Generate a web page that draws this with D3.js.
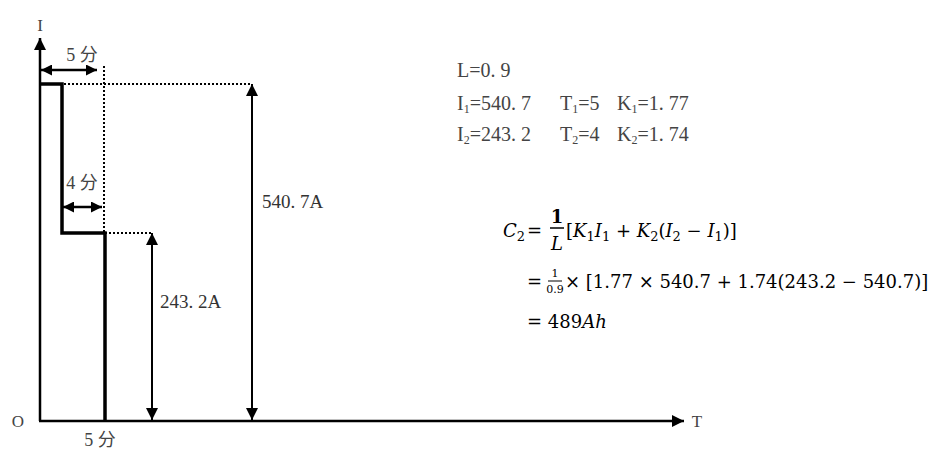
<!DOCTYPE html>
<html>
<head>
<meta charset="utf-8">
<script src="https://cdn.jsdelivr.net/npm/d3@7"></script>
<style>
  body { margin: 0; background: #fff; }
  text { font-family: "Liberation Serif", "Noto Sans CJK SC", serif; }
  .math text { font-family: "DejaVu Serif", serif; }
</style>
</head>
<body>
<script>
// values
var currents = [540.7, 243.2];     // I1, I2 (A)
var durations = [5, 4];            // T1, T2 (min)
var kFactors = [1.77, 1.74];       // K1, K2
var lossFactor = 0.9;              // L
var capacity = 489;                // C2 (Ah)
var timeUnit = "分";

var width = 936, height = 449;

var svg = d3.select("body").append("svg")
    .attr("width", width)
    .attr("height", height);

// schematic (not proportional) scales
var x = d3.scaleLinear()
    .domain([0, durations[0] - durations[1], durations[0]])
    .range([40, 62, 105]);
var y = d3.scaleLinear()
    .domain([0, currents[1], currents[0]])
    .range([421, 233, 84]);

var defs = svg.append("defs");
function marker(id, w, h) {
  defs.append("marker")
      .attr("id", id)
      .attr("viewBox", "0 0 10 10")
      .attr("refX", 10).attr("refY", 5)
      .attr("markerUnits", "userSpaceOnUse")
      .attr("markerWidth", w).attr("markerHeight", h)
      .attr("orient", "auto-start-reverse")
      .append("path").attr("d", "M0,0L10,5L0,10Z").attr("fill", "#000");
}
marker("head", 15, 12);
marker("small", 12, 11);

// axes
svg.append("line")
    .attr("x1", x(0)).attr("y1", y(0))
    .attr("x2", x(0)).attr("y2", 38)
    .attr("stroke", "#000").attr("stroke-width", 2.5)
    .attr("marker-end", "url(#head)");
svg.append("line")
    .attr("x1", x(0) - 1).attr("y1", y(0))
    .attr("x2", 684).attr("y2", y(0))
    .attr("stroke", "#000").attr("stroke-width", 2.5)
    .attr("marker-end", "url(#head)");

svg.append("text").attr("x", x(0)).attr("y", 31)
    .attr("text-anchor", "middle").attr("font-size", 17).attr("fill", "#444").text("I");
svg.append("text").attr("x", 697).attr("y", y(0) + 6)
    .attr("text-anchor", "middle").attr("font-size", 17).attr("fill", "#444").text("T");
svg.append("text").attr("x", 18).attr("y", y(0) + 6)
    .attr("text-anchor", "middle").attr("font-size", 17).attr("fill", "#444").text("O");

// dotted guides
var dotted = svg.append("g")
    .attr("stroke", "#000").attr("stroke-width", 2)
    .attr("stroke-dasharray", "2,2").attr("fill", "none");
dotted.append("line")
    .attr("x1", x(durations[0] - durations[1]) + 2).attr("y1", y(currents[0]))
    .attr("x2", 252).attr("y2", y(currents[0]));
dotted.append("line")
    .attr("x1", x(durations[0]) - 1).attr("y1", 66)
    .attr("x2", x(durations[0]) - 1).attr("y2", y(currents[1]));
dotted.append("line")
    .attr("x1", x(durations[0])).attr("y1", y(currents[1]))
    .attr("x2", 152).attr("y2", y(currents[1]));

// step curve
var steps = [
  {t: 0, i: currents[0]},
  {t: durations[0] - durations[1], i: currents[0]},
  {t: durations[0] - durations[1], i: currents[1]},
  {t: durations[0], i: currents[1]},
  {t: durations[0], i: 0}
];
svg.append("path")
    .datum(steps)
    .attr("fill", "none").attr("stroke", "#000").attr("stroke-width", 3.5)
    .attr("d", d3.line().x(function(d) { return x(d.t); }).y(function(d) { return y(d.i); }));

// current dimension arrows
var dims = [
  {xp: 252, i: currents[0], lx: 262, ly: 208},
  {xp: 152, i: currents[1], lx: 160, ly: 308}
];
dims.forEach(function(d) {
  svg.append("line")
      .attr("x1", d.xp).attr("y1", y(d.i))
      .attr("x2", d.xp).attr("y2", y(0) - 1)
      .attr("stroke", "#000").attr("stroke-width", 2)
      .attr("marker-start", "url(#head)").attr("marker-end", "url(#head)");
  svg.append("text").attr("x", d.lx).attr("y", d.ly)
      .attr("font-size", 19).attr("fill", "#333")
      .text(d3.format(".1f")(d.i).replace(".", ". ") + "A");
});

// time dimension arrows
var tdims = [
  {x1: x(0) + 1, x2: 97, yp: 70, label: durations[0] + " " + timeUnit, lx: 82, ly: 61},
  {x1: x(durations[0] - durations[1]) + 1, x2: 102, yp: 207, label: durations[1] + " " + timeUnit, lx: 82, ly: 189}
];
tdims.forEach(function(d) {
  svg.append("line")
      .attr("x1", d.x1).attr("y1", d.yp)
      .attr("x2", d.x2).attr("y2", d.yp)
      .attr("stroke", "#000").attr("stroke-width", 2.5)
      .attr("marker-start", "url(#small)").attr("marker-end", "url(#small)");
  svg.append("text").attr("x", d.lx).attr("y", d.ly)
      .attr("text-anchor", "middle").attr("font-size", 18).attr("fill", "#444")
      .text(d.label);
});
svg.append("text").attr("x", x(durations[0]) - 5).attr("y", 446)
    .attr("text-anchor", "middle").attr("font-size", 18).attr("fill", "#444")
    .text(durations[0] + " " + timeUnit);

// parameter block
var spaced = function(v) { return String(v).replace(".", ". "); };
var rows = [
  [{b: "L", s: "", v: spaced(lossFactor)}],
  [{b: "I", s: "1", v: spaced(currents[0])}, {b: "T", s: "1", v: durations[0]}, {b: "K", s: "1", v: spaced(kFactors[0])}],
  [{b: "I", s: "2", v: spaced(currents[1])}, {b: "T", s: "2", v: durations[1]}, {b: "K", s: "2", v: spaced(kFactors[1])}]
];
var colX = [457, 560, 617];
var rowY = [77, 110, 141];
rows.forEach(function(row, ri) {
  row.forEach(function(c, ci) {
    var t = svg.append("text").attr("x", colX[ci]).attr("y", rowY[ri])
        .attr("font-size", 20).attr("fill", "#444");
    t.append("tspan").text(c.b);
    if (c.s) t.append("tspan").attr("font-size", 12).attr("dy", 3).text(c.s);
    t.append("tspan").attr("dy", c.s ? -3 : 0).text("=" + c.v);
  });
});

// formula
var f = svg.append("g").attr("class", "math").attr("fill", "#000");
function put(xp, yp, parts, size) {
  var t = f.append("text").attr("x", xp).attr("y", yp).attr("font-size", size || 18);
  var low = false;
  parts.forEach(function(p) {
    var s = t.append("tspan").text(p[0]);
    if (p[1] === "i") s.attr("font-style", "italic");
    if (p[1] === "sub") { s.attr("font-size", 13).attr("dy", 4); low = true; }
    else if (low) { s.attr("dy", -4); low = false; }
  });
  return t;
}
function frac(cx, num, den, yNum, yBar, yDen, half, size, bold) {
  f.append("text").attr("x", cx).attr("y", yNum).attr("text-anchor", "middle")
      .attr("font-size", size).attr("font-weight", bold ? "bold" : null).text(num);
  f.append("line").attr("x1", cx - half).attr("x2", cx + half).attr("y1", yBar).attr("y2", yBar)
      .attr("stroke", "#000").attr("stroke-width", bold ? 1.5 : 1);
  f.append("text").attr("x", cx).attr("y", yDen).attr("text-anchor", "middle")
      .attr("font-size", size).attr("font-style", bold ? "italic" : null).text(den);
}

// line 1
put(503, 237, [["C", "i"], ["2", "sub"]]);
put(527, 237, [["=", ""]]);
frac(557, "1", "L", 223, 228, 250, 7, 18, true);
put(566, 237, [["[", ""], ["K", "i"], ["1", "sub"], ["I", "i"], ["1", "sub"], [" + ", ""],
  ["K", "i"], ["2", "sub"], ["(", ""], ["I", "i"], ["2", "sub"], [" \u2212 ", ""], ["I", "i"], ["1", "sub"], [")]", ""]]);

// line 2
put(527, 288, [["=", ""]]);
frac(555, "1", lossFactor, 277, 281, 293, 7, 11, false);
put(565, 288, [["\u00d7 [" + kFactors[0] + " \u00d7 " + currents[0] + " + " + kFactors[1] +
  "(" + currents[1] + " \u2212 " + currents[0] + ")]", ""]]);

// line 3
put(527, 328, [["= " + capacity, ""], ["Ah", "i"]]);
</script>
</body>
</html>
